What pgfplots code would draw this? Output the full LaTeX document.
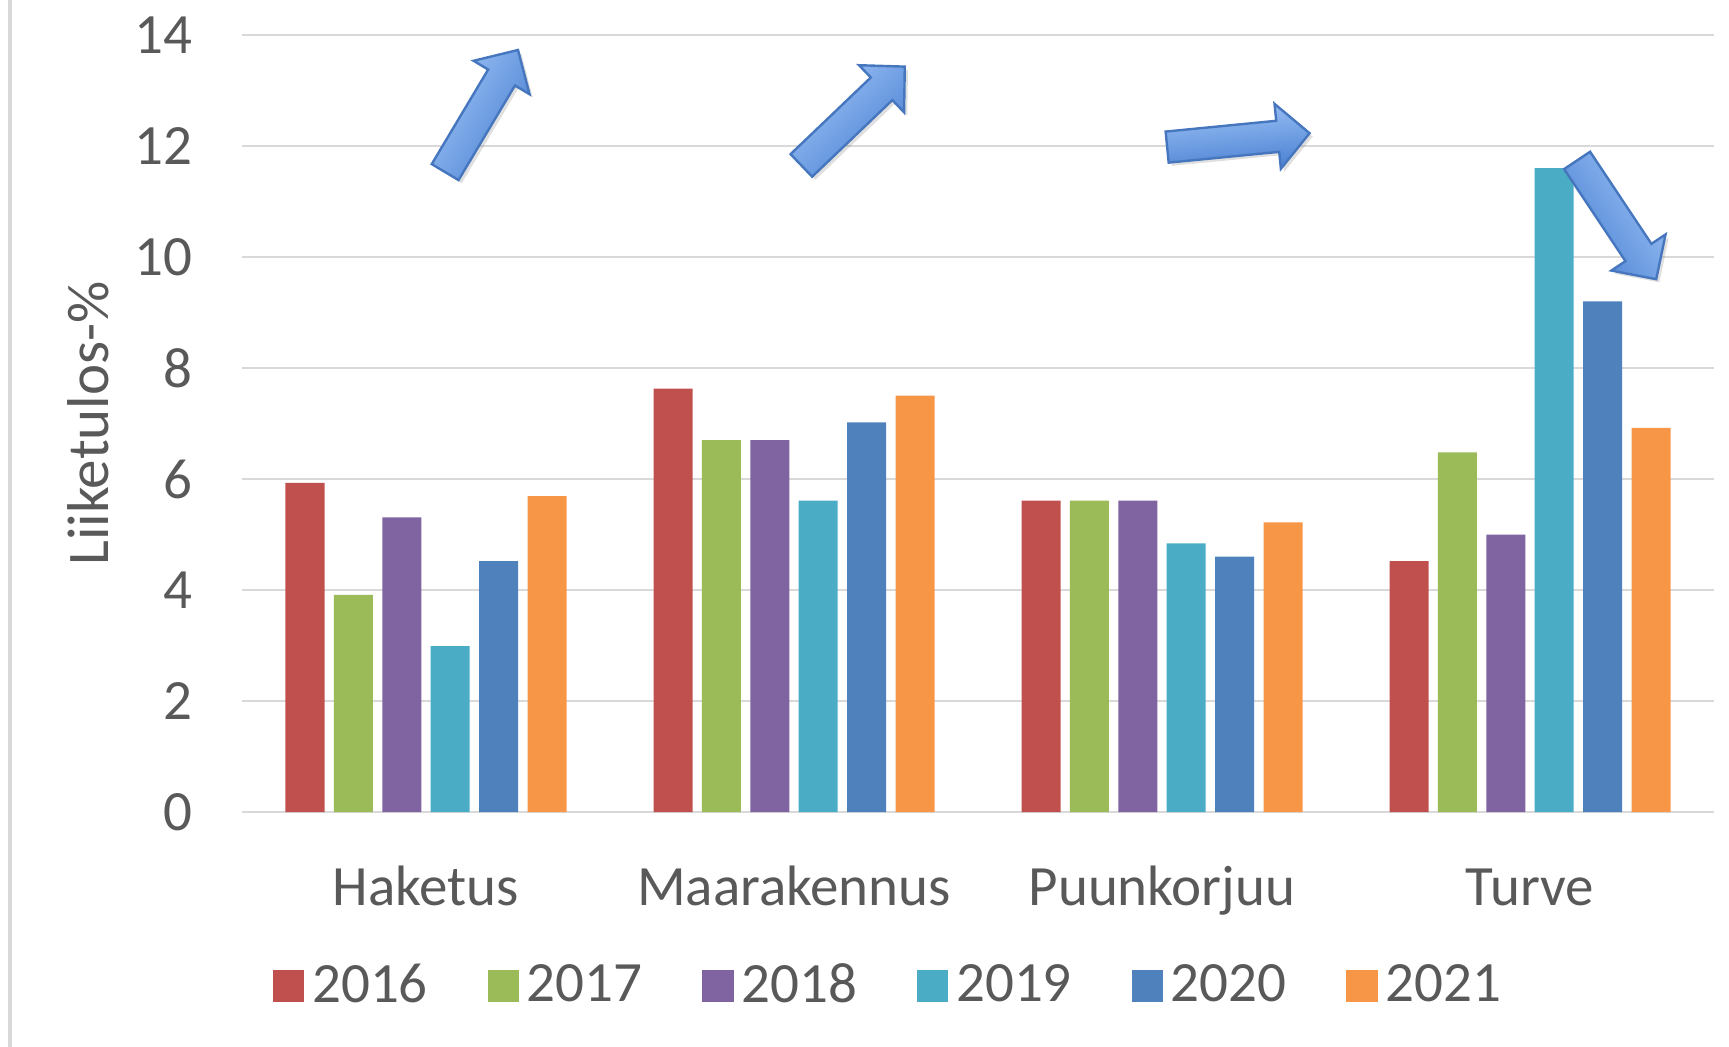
\documentclass[border=0pt]{standalone}
\usepackage{fontspec}
\setmainfont{Carlito}
\usepackage{pgfplots}
\pgfplotsset{compat=1.18}
\usetikzlibrary{calc,shadows}

\definecolor{c2016}{HTML}{C0504D}
\definecolor{c2017}{HTML}{9BBB59}
\definecolor{c2018}{HTML}{8064A2}
\definecolor{c2019}{HTML}{4BACC6}
\definecolor{c2020}{HTML}{4F81BD}
\definecolor{c2021}{HTML}{F79646}
\definecolor{gridgray}{HTML}{D9D9D9}
\definecolor{textgray}{HTML}{595959}
\definecolor{arrowlight}{HTML}{9DC3F6}
\definecolor{arrowdark}{HTML}{4A80D2}
\definecolor{arrowedge}{HTML}{4677BE}

% block arrow from tail #1 to tip #2, shading angle #3
\newcommand{\blockarrow}[3]{%
  \path[draw=arrowedge, line width=0.6bp, top color=arrowlight, bottom color=arrowdark,
        shading angle=#3, drop shadow={opacity=0.25, shadow xshift=0.8bp, shadow yshift=-0.8bp}]
    let \p1=(#1), \p2=(#2), \n1={atan2(\y2-\y1,\x2-\x1)}, \n2={veclen(\x2-\x1,\y2-\y1)} in
    ($(\p1)+({\n1+90}:3.9bp)$) -- ++(\n1:{\n2-8bp}) -- ++({\n1+90}:4.25bp) -- (\p2)
    -- ($(\p1)+(\n1:{\n2-8bp})+({\n1-90}:8.15bp)$) -- ++({\n1+90}:4.25bp)
    -- ($(\p1)+({\n1-90}:3.9bp)$) -- cycle;
}

\begin{document}
\begin{tikzpicture}
\useasboundingbox (-60.5bp,-58.75bp) rectangle (371.75bp,203bp);
\draw[gridgray, line width=0.8bp] (-58bp,-58.75bp) -- (-58bp,203bp);

\begin{axis}[
  at={(0,0)}, anchor=south west,
  scale only axis, width=368bp, height=194.25bp,
  xmin=-0.5, xmax=3.5, ymin=0, ymax=14,
  ybar=2.35bp, bar width=9.75bp,
  xtick={0,1,2,3},
  xticklabels={Haketus,Maarakennus,Puunkorjuu,Turve},
  ytick={0,2,...,14},
  major tick length=0pt,
  axis line style={draw=none},
  ymajorgrids, grid style={gridgray, line width=0.6bp},
  tick label style={font=\fontsize{14.3}{16}\selectfont, text=textgray},
  /pgf/number format/assume math mode=true,
  xticklabel style={anchor=base, yshift=-23.25bp},
  yticklabel style={anchor=east, xshift=-9bp},
  ylabel={Liiketulos-\%},
  ylabel style={at={(axis description cs:-0.1046,0.5)}, anchor=center,
    font=\fontsize{14.8}{17}\selectfont, text=textgray},
  legend columns=-1,
  legend image code/.code={\fill[#1] (-1.7bp,-4bp) rectangle (6.1bp,4bp);},
  legend style={at={(0.441,-0.224)}, anchor=center, draw=none, fill=none,
    font=\fontsize{14.3}{16}\selectfont, text=textgray,
    /tikz/every even column/.append style={column sep=13bp}},
]
\addplot[fill=c2016, draw=none] coordinates {(0,5.93) (1,7.63) (2,5.61) (3,4.52)};
\addplot[fill=c2017, draw=none] coordinates {(0,3.91) (1,6.70) (2,5.61) (3,6.48)};
\addplot[fill=c2018, draw=none] coordinates {(0,5.31) (1,6.70) (2,5.61) (3,5.00)};
\addplot[fill=c2019, draw=none] coordinates {(0,2.99) (1,5.61) (2,4.84) (3,11.60)};
\addplot[fill=c2020, draw=none] coordinates {(0,4.52) (1,7.02) (2,4.60) (3,9.20)};
\addplot[fill=c2021, draw=none] coordinates {(0,5.69) (1,7.50) (2,5.22) (3,6.92)};
\legend{2016,2017,2018,2019,2020,2021}

\coordinate (t1) at (axis cs:0.052,11.53);
\coordinate (h1) at (axis cs:0.250,13.73);
\coordinate (t2) at (axis cs:1.020,11.65);
\coordinate (h2) at (axis cs:1.301,13.43);
\coordinate (t3) at (axis cs:2.014,11.98);
\coordinate (h3) at (axis cs:2.401,12.23);
\coordinate (t4) at (axis cs:3.128,11.74);
\coordinate (h4) at (axis cs:3.343,9.60);
\end{axis}

\blockarrow{t1}{h1}{59.2}
\blockarrow{t2}{h2}{43.8}
\blockarrow{t3}{h3}{5.5}
\blockarrow{t4}{h4}{-56.2}
\end{tikzpicture}
\end{document}
